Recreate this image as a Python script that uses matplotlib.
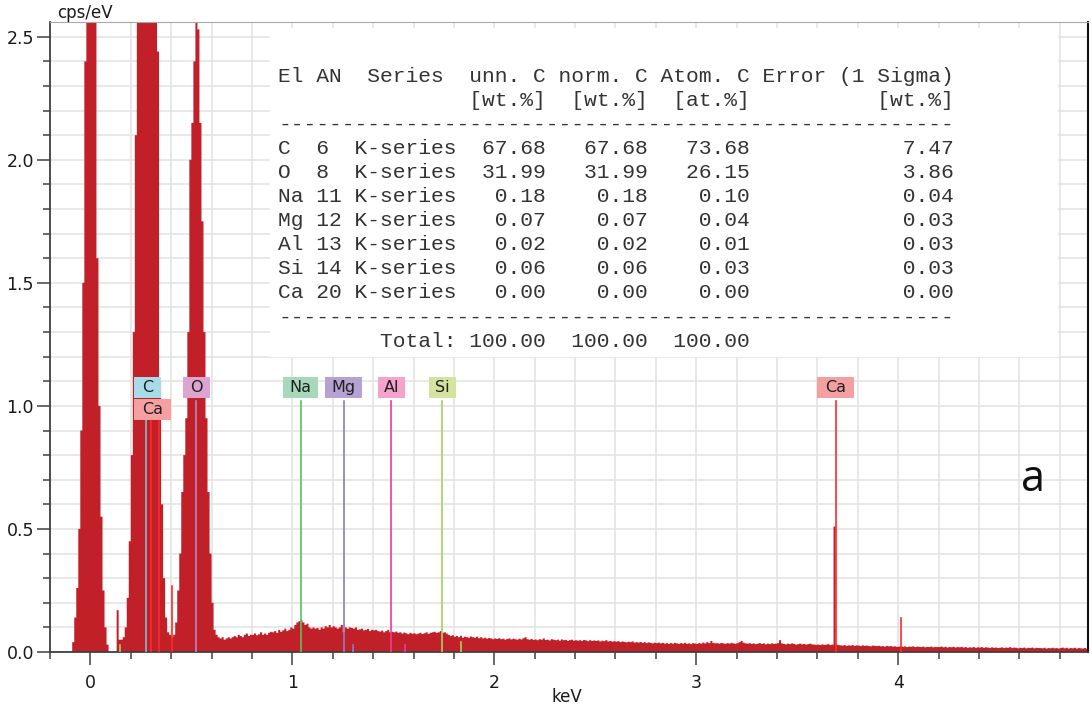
import numpy as np
import matplotlib.pyplot as plt
from matplotlib.patches import Rectangle
from matplotlib.ticker import MultipleLocator, FormatStrFormatter

# EDS spectrum, counts in cps/eV, 10 eV channels starting at -0.2 keV
e_start = -0.2
e_step = 0.01
counts = [
    # -0.20 .. -0.11
    0, 0, 0, 0, 0, 0, 0, 0, 0, 0,
    # -0.10 .. -0.01
    0, 0.04, 0.14, 0.26, 0.5, 0.9, 1.5, 2.4, 3.3, 4.0,
    # 0.00 .. 0.09
    4.2, 3.6, 2.7, 1.6, 1.0, 0.55, 0.25, 0.1, 0.03, 0,
    # 0.10 .. 0.19
    0, 0, 0, 0.17, 0.05, 0.05, 0.06, 0.1, 0.22, 0.45,
    # 0.20 .. 0.29
    0.8, 1.3, 2.1, 3.0, 3.6, 4.2, 4.6, 4.8, 4.7, 4.5,
    # 0.30 .. 0.39
    4.0, 3.4, 2.9, 2.44, 1.1, 0.6, 0.3, 0.14, 0.08, 0.07,
    # 0.40 .. 0.49
    0.06, 0.07, 0.12, 0.25, 0.4, 0.65, 0.8, 0.95, 1.3, 2.0,
    # 0.50 .. 0.59
    2.15, 2.4, 2.56, 2.53, 2.15, 1.75, 1.3, 0.95, 0.65, 0.4,
    # 0.60 .. 0.69
    0.2, 0.09, 0.07, 0.06, 0.055, 0.06, 0.05, 0.055, 0.06, 0.055,
    # 0.70 .. 0.79
    0.06, 0.065, 0.06, 0.07, 0.065, 0.06, 0.07, 0.075, 0.065, 0.07,
    # 0.80 .. 0.89
    0.07, 0.075, 0.068, 0.072, 0.08, 0.07, 0.075, 0.07, 0.078, 0.082,
    # 0.90 .. 0.99
    0.08, 0.085, 0.078, 0.09, 0.082, 0.088, 0.095, 0.085, 0.09, 0.1,
    # 1.00 .. 1.09
    0.095, 0.11, 0.12, 0.125, 0.13, 0.12, 0.11, 0.115, 0.1, 0.095,
    # 1.10 .. 1.19
    0.1, 0.095, 0.098, 0.09, 0.1, 0.095, 0.105, 0.1, 0.11, 0.1,
    # 1.20 .. 1.29
    0.105, 0.1, 0.095, 0.1, 0.11, 0.08, 0.1, 0.095, 0.1, 0.098,
    # 1.30 .. 1.39
    0.095, 0.1, 0.09, 0.092, 0.095, 0.088, 0.09, 0.094, 0.085, 0.09,
    # 1.40 .. 1.49
    0.088, 0.09, 0.085, 0.083, 0.087, 0.08, 0.085, 0.09, 0.08, 0.082,
    # 1.50 .. 1.59
    0.08, 0.083, 0.078, 0.08, 0.075, 0.079, 0.076, 0.072, 0.078, 0.074,
    # 1.60 .. 1.69
    0.076, 0.072, 0.075, 0.078, 0.073, 0.076, 0.08, 0.074, 0.078, 0.08,
    # 1.70 .. 1.79
    0.082, 0.078, 0.08, 0.085, 0.078, 0.08, 0.075, 0.07, 0.065, 0.068,
    # 1.80 .. 1.89
    0.062, 0.065, 0.06, 0.066, 0.058, 0.062, 0.06, 0.058, 0.063, 0.06,
    # 1.90 .. 1.99
    0.058, 0.062, 0.056, 0.06, 0.055, 0.058, 0.054, 0.057, 0.055, 0.052,
    # 2.00 .. 2.09
    0.055, 0.053, 0.056, 0.052, 0.054, 0.05, 0.053, 0.055, 0.051, 0.054,
    # 2.10 .. 2.19
    0.052, 0.05, 0.054, 0.051, 0.056, 0.06, 0.052, 0.05, 0.053, 0.049,
    # 2.20 .. 2.29
    0.051, 0.048, 0.052, 0.05, 0.055, 0.049, 0.05, 0.047, 0.052, 0.05,
    # 2.30 .. 2.39
    0.048, 0.05, 0.046, 0.051, 0.048, 0.049, 0.045, 0.048, 0.05, 0.046,
    # 2.40 .. 2.49
    0.048, 0.046, 0.048, 0.045, 0.049, 0.047, 0.044, 0.048, 0.045, 0.047,
    # 2.50 .. 2.59
    0.045, 0.047, 0.043, 0.046, 0.044, 0.048, 0.043, 0.045, 0.042, 0.044,
    # 2.60 .. 2.69
    0.042, 0.044, 0.04, 0.043, 0.041, 0.039, 0.042, 0.04, 0.043, 0.038,
    # 2.70 .. 2.79
    0.04, 0.038, 0.041, 0.037, 0.04, 0.036, 0.039, 0.037, 0.035, 0.038,
    # 2.80 .. 2.89
    0.036, 0.038, 0.035, 0.037, 0.034, 0.036, 0.033, 0.036, 0.034, 0.037,
    # 2.90 .. 2.99
    0.035, 0.033, 0.036, 0.034, 0.037, 0.033, 0.035, 0.032, 0.036, 0.034,
    # 3.00 .. 3.09
    0.033, 0.036, 0.034, 0.038, 0.035, 0.04, 0.036, 0.045, 0.037, 0.035,
    # 3.10 .. 3.19
    0.036, 0.034, 0.037, 0.035, 0.033, 0.036, 0.034, 0.037, 0.035, 0.033,
    # 3.20 .. 3.29
    0.036, 0.04, 0.045, 0.038, 0.035, 0.034, 0.036, 0.033, 0.035, 0.032,
    # 3.30 .. 3.39
    0.034, 0.036, 0.033, 0.035, 0.031, 0.034, 0.032, 0.035, 0.033, 0.034,
    # 3.40 .. 3.49
    0.036, 0.048, 0.035, 0.033, 0.031, 0.034, 0.032, 0.035, 0.033, 0.03,
    # 3.50 .. 3.59
    0.032, 0.034, 0.031, 0.033, 0.03, 0.032, 0.034, 0.031, 0.03, 0.029,
    # 3.60 .. 3.69
    0.03, 0.028, 0.031, 0.029, 0.03, 0.032, 0.028, 0.03, 0.51, 0.03,
    # 3.70 .. 3.79
    0.028, 0.027, 0.026, 0.028, 0.025, 0.027, 0.026, 0.028, 0.025, 0.027,
    # 3.80 .. 3.89
    0.026, 0.024, 0.027, 0.025, 0.026, 0.024, 0.023, 0.026, 0.025, 0.024,
    # 3.90 .. 3.99
    0.025, 0.023, 0.024, 0.022, 0.025, 0.023, 0.024, 0.022, 0.023, 0.021,
    # 4.00 .. 4.09
    0.022, 0.024, 0.021, 0.023, 0.02, 0.022, 0.021, 0.023, 0.02, 0.022,
    # 4.10 .. 4.19
    0.021, 0.02, 0.022, 0.019, 0.021, 0.02, 0.022, 0.019, 0.021, 0.02,
    # 4.20 .. 4.29
    0.02, 0.022, 0.019, 0.021, 0.018, 0.02, 0.019, 0.021, 0.018, 0.02,
    # 4.30 .. 4.39
    0.019, 0.021, 0.018, 0.02, 0.017, 0.019, 0.018, 0.02, 0.017, 0.019,
    # 4.40 .. 4.49
    0.018, 0.02, 0.017, 0.019, 0.018, 0.016, 0.019, 0.017, 0.018, 0.016,
    # 4.50 .. 4.59
    0.017, 0.019, 0.016, 0.018, 0.017, 0.02, 0.016, 0.018, 0.017, 0.015,
    # 4.60 .. 4.69
    0.017, 0.016, 0.018, 0.015, 0.017, 0.016, 0.018, 0.015, 0.017, 0.016,
    # 4.70 .. 4.79
    0.016, 0.015, 0.017, 0.014, 0.016, 0.015, 0.017, 0.015, 0.016, 0.014,
    # 4.80 .. 4.89
    0.016, 0.018, 0.015, 0.017, 0.014, 0.016, 0.015, 0.017, 0.014, 0.016,
    # 4.90 .. 4.93
    0.015, 0.014, 0.016, 0.013,
]

# element marker lines (keV, height in cps/eV)
line_energy = [0.148, 0.277, 0.302, 0.341, 0.406, 0.525, 1.041, 1.254, 1.302,
               1.487, 1.557, 1.740, 1.836, 3.691, 4.013]
line_height = [0.03, 1.02, 0.94, 0.94, 0.27, 1.02, 1.02, 1.02, 0.03,
               1.02, 0.03, 1.02, 0.04, 1.02, 0.14]
line_elem = ['Si', 'C', 'Ca', 'Ca', 'Ca', 'O', 'Na', 'Mg', 'Mg',
             'Al', 'Al', 'Si', 'Si', 'Ca', 'Ca']

# labels above the lines
label_text = ['C', 'Ca', 'O', 'Na', 'Mg', 'Al', 'Si', 'Ca']
label_energy = [0.282, 0.307, 0.525, 1.042, 1.255, 1.49, 1.745, 3.69]
label_row = [0, 1, 0, 0, 0, 0, 0, 0]

# quantification table
elements = ['C', 'O', 'Na', 'Mg', 'Al', 'Si', 'Ca']
atomic_no = [6, 8, 11, 12, 13, 14, 20]
unn_c = [67.68, 31.99, 0.18, 0.07, 0.02, 0.06, 0.00]
norm_c = [67.68, 31.99, 0.18, 0.07, 0.02, 0.06, 0.00]
atom_c = [73.68, 26.15, 0.10, 0.04, 0.01, 0.03, 0.00]
sigma = [7.47, 3.86, 0.04, 0.03, 0.03, 0.03, 0.00]
totals = [100.00, 100.00, 100.00]

line_colors = {'C': '#7cbcd6', 'Ca': '#ff2a2a', 'O': '#b986c2', 'Na': '#5cc05c',
               'Mg': '#8c7cc0', 'Al': '#f0389a', 'Si': '#a8d060'}
box_colors = {'C': '#a8dbe8', 'Ca': '#f4a0a0', 'O': '#dca4d0', 'Na': '#a8d8bc',
              'Mg': '#b6a2d2', 'Al': '#f4a4cc', 'Si': '#d4e4a0'}
box_width = {'C': 0.134, 'Ca': 0.18, 'O': 0.134, 'Na': 0.173, 'Mg': 0.183,
             'Al': 0.134, 'Si': 0.134}

W, H = 1092, 709
fig = plt.figure(figsize=(W / 100, H / 100), dpi=100)
ax = fig.add_axes([50 / W, 1 - 652 / H, (1088 - 50) / W, (652 - 22) / H])

# spectrum as a filled step outline
edges = e_start + e_step * np.arange(len(counts) + 1)
ax.stairs(counts, edges, fill=True, color='#c12028', lw=0, zorder=2)
ax.plot([edges[0], edges[-1]], [0, 0], color='#c12028', lw=1, zorder=2)

for e, h, el in zip(line_energy, line_height, line_elem):
    ax.plot([e, e], [0, h], color=line_colors[el], lw=1.2, zorder=3)

for txt, e, row in zip(label_text, label_energy, label_row):
    bw = box_width[txt]
    y0 = 1.0325 if row == 0 else 0.943
    ax.add_patch(Rectangle((e - bw / 2, y0), bw, 0.085, fc=box_colors[txt],
                           ec='none', zorder=4))
    ax.text(e, y0 + 0.0425, txt, ha='center', va='center', fontsize=11.5,
            color='#202020', zorder=5)

ax.set_xlim(-0.2, 4.94)
ax.set_ylim(0, 2.56)
ax.xaxis.set_major_locator(MultipleLocator(1))
ax.xaxis.set_minor_locator(MultipleLocator(0.2))
ax.yaxis.set_major_locator(MultipleLocator(0.5))
ax.yaxis.set_minor_locator(MultipleLocator(0.1))
ax.yaxis.set_major_formatter(FormatStrFormatter('%.1f'))
ax.set_axisbelow(True)
ax.grid(which='both', color='#e2e2e2', lw=1.1)
ax.tick_params(which='major', direction='out', length=9.5, width=1.1,
               color='#404040', labelsize=12.5, labelcolor='#1a1a1a', pad=2)
ax.tick_params(axis='x', which='major', pad=6)
ax.tick_params(which='minor', direction='out', length=5, width=1.1, color='#404040')
for s in ['left', 'bottom']:
    ax.spines[s].set_color('#404040')
    ax.spines[s].set_linewidth(1.3)
ax.spines['top'].set_color('#a8a8a8')
ax.spines['right'].set_color('#111111')
ax.spines['right'].set_linewidth(1.5)

fig.text(57 / W, 1 - 13 / H, 'cps/eV', fontsize=12, ha='left', va='center',
         color='#1a1a1a')
fig.text(567 / W, 1 - 697 / H, 'keV', fontsize=12, ha='center', va='center',
         color='#1a1a1a')
fig.text(1033 / W, 1 - 480 / H, 'a', fontsize=31, ha='center', va='center',
         family='Open Sans', color='#111111')

# white panel behind the results table
fig.add_artist(Rectangle((270 / W, 1 - 357 / H), (1058 - 270) / W, (357 - 28) / H,
                         transform=fig.transFigure, fc='white', ec='none', zorder=1))

dash = '-' * 53
rows = ['El AN  Series  unn. C norm. C Atom. C Error (1 Sigma)',
        ' ' * 15 + '[wt.%]  [wt.%]  [at.%]' + ' ' * 10 + '[wt.%]',
        dash]
for el, an, u, n, a, s in zip(elements, atomic_no, unn_c, norm_c, atom_c, sigma):
    rows.append(f'{el:<2} {an:<2} K-series{u:>7.2f}{n:>8.2f}{a:>8.2f}{s:>16.2f}')
rows.append(dash)
rows.append(' ' * 8 + f'Total:{totals[0]:>7.2f}{totals[1]:>8.2f}{totals[2]:>8.2f}')

for k, r in enumerate(rows):
    fig.text(278 / W, 1 - (76 + 24.1 * k) / H, r, family='Liberation Mono',
             fontsize=15.3, ha='left', va='center', color='#333333', zorder=3)

fig.savefig('out.png', dpi=100)
